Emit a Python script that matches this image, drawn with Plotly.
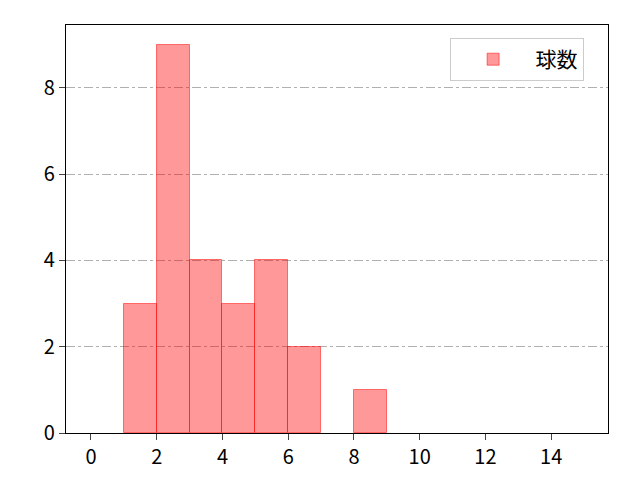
import plotly.graph_objects as go

bin_left = [1, 2, 3, 4, 5, 6, 8]
counts = [3, 9, 4, 3, 4, 2, 1]
series_name = "球数"
x_ticks = [0, 2, 4, 6, 8, 10, 12, 14]
y_ticks = [0, 2, 4, 6, 8]

fig = go.Figure()
fig.add_trace(go.Bar(
    x=bin_left, y=counts, width=[1] * len(bin_left), offset=0,
    name=series_name,
    marker=dict(color="rgba(255,0,0,0.4)", line=dict(color="rgba(255,0,0,0.5)", width=1)),
    showlegend=True,
))

font = "Noto Sans CJK JP, DejaVu Sans, sans-serif"
fig.update_layout(
    width=640, height=480,
    margin=dict(l=58, r=40, t=17, b=55),
    paper_bgcolor="white", plot_bgcolor="white",
    font=dict(family=font, size=20, color="black"),
    bargap=0,
    legend=dict(
        x=0.955, y=0.968, xanchor="right", yanchor="top",
        bordercolor="#cccccc", borderwidth=1, bgcolor="rgba(255,255,255,0.8)",
        font=dict(size=21), itemwidth=75,
    ),
    xaxis=dict(
        range=[-0.76, 15.73], tickvals=x_ticks, ticks="outside", ticklen=6,
        tickwidth=1.2, showline=True, linecolor="black", linewidth=1.2, mirror=True,
        showgrid=False, zeroline=False,
    ),
    yaxis=dict(
        range=[0, 9.46], tickvals=y_ticks, ticks="outside", ticklen=6,
        tickwidth=1.2, showline=True, linecolor="black", linewidth=1.2, mirror=True,
        showgrid=True, gridcolor="#b0b0b0", gridwidth=1, griddash="dashdot",
        zeroline=False,
    ),
)
fig.write_html("out.html")
